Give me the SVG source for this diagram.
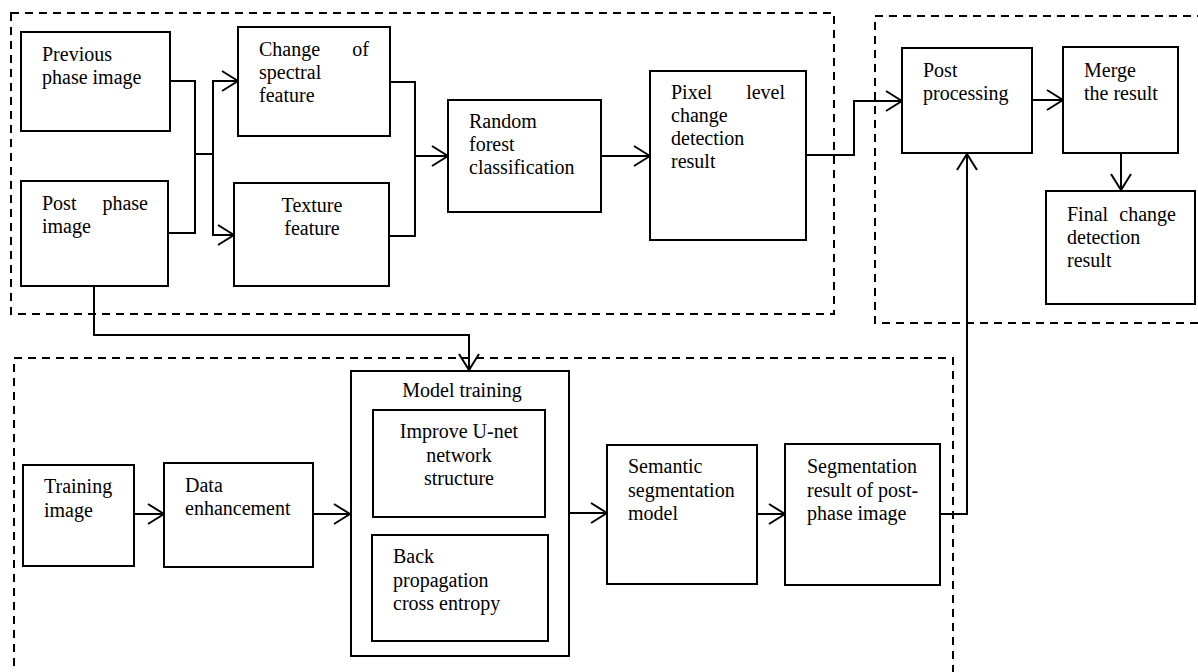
<svg xmlns="http://www.w3.org/2000/svg" width="1198" height="672" viewBox="0 0 1198 672" font-family="'Liberation Serif', 'DejaVu Serif', serif">
<style>
.box{fill:#fff;stroke:#000;stroke-width:2}
.dash{fill:none;stroke:#000;stroke-width:2;stroke-dasharray:8 6}
.ln{fill:none;stroke:#000;stroke-width:2}
.arr{fill:none;stroke:#000;stroke-width:2;marker-end:url(#ah)}
.t{font-family:'Liberation Serif','DejaVu Serif',serif;font-size:20px;fill:#000}
.c{text-anchor:middle}
.r{text-anchor:end}
</style>
<defs>
<marker id="ah" viewBox="0 0 18 22" refX="17" refY="11" markerWidth="18" markerHeight="22" markerUnits="userSpaceOnUse" orient="auto">
<path d="M1,1 L17,11 L1,21" fill="none" stroke="#000" stroke-width="2"/>
</marker>
</defs>
<rect width="1198" height="672" fill="#fff"/>
<g id="groups">
<rect class="dash" x="11" y="13" width="823" height="301"/>
<path class="dash" d="M1205,16 H875 V323 H1205"/>
<path class="dash" d="M14,680 V358 H953 V680"/>
</g>
<g id="connectors">
<path class="ln" d="M170,81 H195 V233 H168"/>
<path class="ln" d="M195,154 H213"/>
<path class="arr" d="M213,154 V81 H238"/>
<path class="arr" d="M213,154 V235 H234"/>
<path class="ln" d="M390,82 H415 V236 H389"/>
<path class="arr" d="M415,156 H448"/>
<path class="arr" d="M601,156 H650"/>
<path class="arr" d="M806,155 H854 V101 H902"/>
<path class="arr" d="M1032,100 H1063"/>
<path class="arr" d="M1121,153 V190"/>
<path class="arr" d="M94,286 V335 H469 V370"/>
<path class="arr" d="M134,514 H164"/>
<path class="arr" d="M313,514 H350"/>
<path class="arr" d="M569,513 H607"/>
<path class="arr" d="M757,514 H785"/>
<path class="arr" d="M940,514 H967 V154"/>
</g>
<g id="previous" class="t">
<rect class="box" x="21" y="32" width="149" height="99"/>
<text x="42" y="61">Previous</text>
<text x="42" y="84">phase image</text>
</g>
<g id="post" class="t">
<rect class="box" x="21" y="181" width="147" height="105"/>
<text y="210"><tspan x="42">Post</tspan><tspan x="148" class="r">phase</tspan></text>
<text x="42" y="233">image</text>
</g>
<g id="spectral" class="t">
<rect class="box" x="238" y="27" width="152" height="109"/>
<text y="56"><tspan x="259">Change</tspan><tspan x="369" class="r">of</tspan></text>
<text x="259" y="79">spectral</text>
<text x="259" y="102">feature</text>
</g>
<g id="texture" class="t">
<rect class="box" x="234" y="183" width="155" height="103"/>
<text class="c" x="312" y="212">Texture</text>
<text class="c" x="312" y="235">feature</text>
</g>
<g id="rf" class="t">
<rect class="box" x="448" y="100" width="153" height="112"/>
<text x="469" y="128">Random</text>
<text x="469" y="151">forest</text>
<text x="469" y="174">classification</text>
</g>
<g id="pixel" class="t">
<rect class="box" x="650" y="71" width="156" height="169"/>
<text y="99"><tspan x="671">Pixel</tspan><tspan x="785" class="r">level</tspan></text>
<text x="671" y="122">change</text>
<text x="671" y="145">detection</text>
<text x="671" y="168">result</text>
</g>
<g id="postproc" class="t">
<rect class="box" x="902" y="48" width="130" height="105"/>
<text x="923" y="77">Post</text>
<text x="923" y="100">processing</text>
</g>
<g id="merge" class="t">
<rect class="box" x="1063" y="47" width="115" height="106"/>
<text x="1084" y="77">Merge</text>
<text x="1084" y="100">the result</text>
</g>
<g id="final" class="t">
<rect class="box" x="1046" y="191" width="149" height="113"/>
<text x="1067" y="221"><tspan x="1067">Final</tspan><tspan x="1176" class="r">change</tspan></text>
<text x="1067" y="244">detection</text>
<text x="1067" y="267">result</text>
</g>
<g id="training" class="t">
<rect class="box" x="23" y="465" width="111" height="101"/>
<text x="44" y="493">Training</text>
<text x="44" y="517">image</text>
</g>
<g id="enhance" class="t">
<rect class="box" x="164" y="463" width="149" height="104"/>
<text x="185" y="492">Data</text>
<text x="185" y="515">enhancement</text>
</g>
<g id="model" class="t">
<rect class="box" x="351" y="371" width="218" height="285"/>
<text class="c" x="462" y="397">Model training</text>
</g>
<g id="unet" class="t">
<rect class="box" x="373" y="410" width="172" height="107"/>
<text class="c" x="459" y="438">Improve U-net</text>
<text class="c" x="459" y="462">network</text>
<text class="c" x="459" y="485">structure</text>
</g>
<g id="backprop" class="t">
<rect class="box" x="372" y="535" width="176" height="106"/>
<text x="393" y="563">Back</text>
<text x="393" y="587">propagation</text>
<text x="393" y="610">cross entropy</text>
</g>
<g id="semantic" class="t">
<rect class="box" x="607" y="445" width="150" height="139"/>
<text x="628" y="473">Semantic</text>
<text x="628" y="497">segmentation</text>
<text x="628" y="520">model</text>
</g>
<g id="segresult" class="t">
<rect class="box" x="785" y="444" width="155" height="141"/>
<text x="807" y="473">Segmentation</text>
<text x="807" y="497">result of post-</text>
<text x="807" y="520">phase image</text>
</g>
</svg>
